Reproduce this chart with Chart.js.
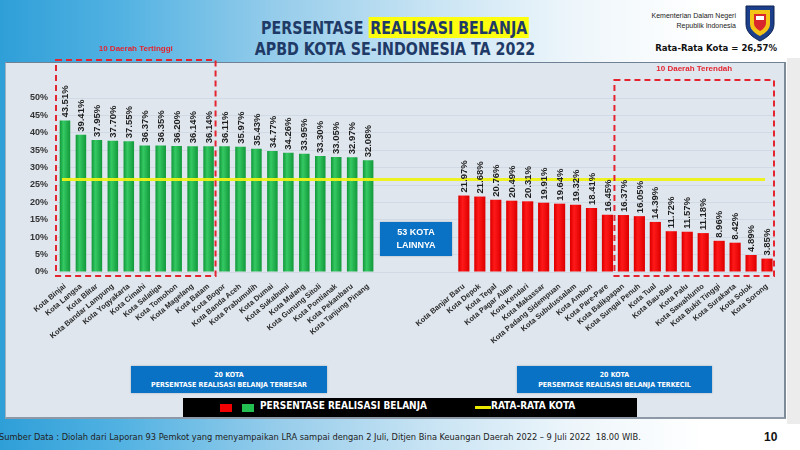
<!DOCTYPE html>
<html><head><meta charset="utf-8">
<script src="https://cdn.jsdelivr.net/npm/chart.js@4/dist/chart.umd.min.js"></script>
<style>
html,body{margin:0;padding:0;}
body{width:800px;height:450px;position:relative;overflow:hidden;
 background:linear-gradient(90deg,#2f9fd8 0%,#52b2e2 15%,#97cdeb 35%,#cbe5f4 55%,#eef6fb 72%,#ffffff 88%);
 font-family:'Liberation Sans',Arial,sans-serif;}
.abs{position:absolute;}
.narrow{font-family:'Liberation Sans Narrow','Arial Narrow','DejaVu Sans Condensed',sans-serif;}
#panel{left:5px;top:62px;width:778px;height:354px;background:#dfe6ee;border-top:1px solid #6f8295;border-left:1px solid #9fb0c0;border-right:2px solid #7d8a97;border-bottom:2px solid #8d99a6;}
#strip{left:787px;top:58px;width:13px;height:366px;background:#ececec;}
#title{left:195px;top:17px;width:400px;text-align:center;color:#1f3a66;font-weight:bold;font-size:18px;line-height:21px;transform:scaleX(0.88);transform-origin:200px 0;}
#title .hl{background:#ffff10;padding:0 2px;}
#kem{left:600px;top:11px;width:136px;text-align:right;font-size:7px;line-height:10px;color:#222;}
#avgtxt{left:620px;top:42px;width:157px;text-align:right;font-size:9.5px;font-weight:bold;color:#111;}
#chartbox{left:5px;top:40px;width:780px;height:320px;}
.bluebox{background:#0a72c4;color:#fff;font-weight:bold;text-align:center;box-shadow:0 0 2px rgba(0,0,0,.25);}
#lain{left:380px;top:222px;width:72px;height:34px;font-size:9px;line-height:13px;padding-top:4px;box-sizing:border-box;}
#b1{left:131px;top:366px;width:196px;height:27px;font-size:7px;line-height:10px;padding-top:4px;box-sizing:border-box;}
#b2{left:517px;top:366px;width:195px;height:27px;font-size:7px;line-height:10px;padding-top:4px;box-sizing:border-box;}
#legend{left:183px;top:398px;width:454px;height:19px;background:#000;color:#fff;font-weight:bold;font-size:10px;}
#footer{left:-1px;top:431px;font-size:9.2px;color:#222;white-space:nowrap;}
#page{left:764px;top:430px;font-size:12px;font-weight:bold;color:#111;}
</style></head>
<body>
<div id="panel" class="abs"></div>
<div id="strip" class="abs"></div>
<div id="title" class="abs narrow">PERSENTASE <span class="hl">REALISASI BELANJA</span><br>APBD KOTA SE-INDONESIA TA 2022</div>
<div id="kem" class="abs">Kementerian Dalam Negeri<br>Republik Indonesia</div>
<svg class="abs" style="left:744px;top:4px" width="32" height="38" viewBox="0 0 32 38">
 <path d="M2 2 H30 V20 C30 29 22 34 16 37 C10 34 2 29 2 20 Z" fill="#1b3f8a" stroke="#0d2350" stroke-width="1"/>
 <path d="M6 6 H26 V20 C26 26 20 30 16 32 C12 30 6 26 6 20 Z" fill="#f3c316"/>
 <path d="M10 10 H22 V19 C22 23 19 25 16 27 C13 25 10 23 10 19 Z" fill="#d8262c"/>
 <rect x="12" y="12" width="8" height="4" fill="#ffffff"/>
</svg>
<div id="avgtxt" class="abs narrow"></div>
<div id="chartbox" class="abs"><canvas id="c" width="780" height="320"></canvas></div>
<div id="lain" class="abs bluebox">53 KOTA<br>LAINNYA</div>
<div id="b1" class="abs bluebox narrow">20 KOTA<br>PERSENTASE REALISASI BELANJA TERBESAR</div>
<div id="b2" class="abs bluebox narrow">20 KOTA<br>PERSENTASE REALISASI BELANJA TERKECIL</div>
<div id="legend" class="abs narrow">
 <span class="abs" style="left:37px;top:6px;width:12px;height:8px;background:#f00000;"></span>
 <span class="abs" style="left:59px;top:6px;width:12px;height:8px;background:#22c050;"></span>
 <span class="abs" style="left:77px;top:2px;">PERSENTASE REALISASI BELANJA</span>
 <span class="abs" style="left:292px;top:8px;width:16px;height:3px;background:#e8e800;"></span>
 <span class="abs" style="left:308px;top:2px;">RATA-RATA KOTA</span>
</div>
<div id="footer" class="abs narrow">Sumber Data : Diolah dari Laporan 93 Pemkot yang menyampaikan LRA sampai dengan 2 Juli, Ditjen Bina Keuangan Daerah 2022 – 9 Juli 2022&nbsp; 18.00 WIB.</div>
<div id="page" class="abs">10</div>
<script>
const topCities = ['Kota Binjai','Kota Langsa','Kota Blitar','Kota Bandar Lampung','Kota Yogyakarta','Kota Cimahi','Kota Salatiga','Kota Tomohon','Kota Magelang','Kota Batam','Kota Bogor','Kota Banda Aceh','Kota Prabumulih','Kota Dumai','Kota Sukabumi','Kota Malang','Kota Gunung Sitoli','Kota Pontianak','Kota Pekanbaru','Kota Tanjung Pinang'];
const topValues = [43.51,39.41,37.95,37.70,37.55,36.37,36.35,36.20,36.14,36.14,36.11,35.97,35.43,34.77,34.26,33.95,33.30,33.05,32.97,32.08];
const bottomCities = ['Kota Banjar Baru','Kota Depok','Kota Tegal','Kota Pagar Alam','Kota Kendari','Kota Makassar','Kota Padang Sidempuan','Kota Subulussalam','Kota Ambon','Kota Pare-Pare','Kota Balikpapan','Kota Sungai Penuh','Kota Tual','Kota Bau-Bau','Kota Palu','Kota Sawahlunto','Kota Bukit Tinggi','Kota Surakarta','Kota Solok','Kota Sorong'];
const bottomValues = [21.97,21.68,20.76,20.49,20.31,19.91,19.64,19.32,18.41,16.45,16.37,16.05,14.39,11.72,11.57,11.18,8.96,8.42,4.89,3.85];
const gapSlots = 5;
const avgValue = 26.57;
const yTicks = [0,5,10,15,20,25,30,35,40,45,50];

document.getElementById('avgtxt').textContent = 'Rata-Rata Kota = ' + avgValue.toFixed(2).replace('.', ',') + '%';

const gap = Array(gapSlots).fill(null);
const labels = [...topCities, ...gap.map(() => ''), ...bottomCities];
const greenData = [...topValues, ...gap, ...bottomCities.map(() => null)];
const redData = [...topCities.map(() => null), ...gap, ...bottomValues];

function barFill(edge, mid) {
  return (ctx) => {
    const ch = ctx.chart;
    if (!ch.chartArea || !ch.scales.x) return mid;
    const cx = ch.scales.x.getPixelForValue(ctx.index);
    const g = ch.ctx.createLinearGradient(cx - 5, 0, cx + 5, 0);
    g.addColorStop(0, edge); g.addColorStop(0.35, mid); g.addColorStop(1, edge);
    return g;
  };
}

const decor = {
  id: 'decor',
  afterDatasetsDraw(chart) {
    const { ctx, chartArea: ca, scales: { x, y } } = chart;
    const yAvg = y.getPixelForValue(avgValue);
    ctx.save();
    ctx.strokeStyle = 'rgba(238,242,20,0.95)';
    ctx.lineWidth = 3;
    ctx.beginPath();
    ctx.moveTo(x.getPixelForValue(0) - 3, yAvg);
    ctx.lineTo(x.getPixelForValue(labels.length - 1) - 2, yAvg);
    ctx.stroke();
    ctx.restore();
    ctx.save();
    ctx.fillStyle = '#1e1e1e';
    ctx.font = 'bold 9.5px "Liberation Sans", Arial, sans-serif';
    ctx.textAlign = 'left';
    ctx.textBaseline = 'middle';
    chart.data.datasets.forEach((ds, di) => {
      const meta = chart.getDatasetMeta(di);
      ds.data.forEach((v, i) => {
        if (v == null) return;
        const el = meta.data[i];
        ctx.save();
        ctx.translate(el.x + 0.5, el.y - 3);
        ctx.rotate(-Math.PI / 2);
        ctx.fillText(v.toFixed(2) + '%', 0, 0);
        ctx.restore();
      });
    });
    ctx.restore();
    const step = x.getPixelForValue(1) - x.getPixelForValue(0);
    const boxes = [
      { a: 0, b: 9, top: ca.top - 38, text: '10 Daerah Tertinggi' },
      { a: topCities.length + gapSlots + 10, b: labels.length - 1, top: ca.top - 18, text: '10 Daerah Terendah' }
    ];
    ctx.save();
    ctx.strokeStyle = '#e42530';
    ctx.lineWidth = 2;
    ctx.setLineDash([6, 4]);
    boxes.forEach(bx => {
      const x1 = x.getPixelForValue(bx.a) - step * 0.5 - 1;
      const x2 = x.getPixelForValue(bx.b) + step * 0.5 - 1;
      ctx.strokeRect(x1, bx.top, x2 - x1, ca.bottom + 4 - bx.top);
      ctx.save();
      ctx.setLineDash([]);
      ctx.fillStyle = '#e42530';
      ctx.font = 'bold 8px "Liberation Sans", Arial, sans-serif';
      ctx.textAlign = 'center';
      ctx.textBaseline = 'middle';
      ctx.fillText(bx.text, (x1 + x2) / 2, bx.top - 11);
      ctx.restore();
    });
    ctx.restore();
  }
};

new Chart(document.getElementById('c'), {
  type: 'bar',
  data: {
    labels,
    datasets: [
      { label: 'Persentase Realisasi Belanja (tertinggi)', data: greenData, backgroundColor: barFill('#139a3c', '#35c963'), grouped: false, barPercentage: 0.66, categoryPercentage: 1 },
      { label: 'Persentase Realisasi Belanja (terendah)', data: redData, backgroundColor: barFill('#e00000', '#ff1a1a'), grouped: false, barPercentage: 0.7, categoryPercentage: 1 }
    ]
  },
  options: {
    responsive: false,
    animation: false,
    devicePixelRatio: 1,
    layout: { padding: { top: 58, right: 10, left: 0, bottom: 0 } },
    plugins: { legend: { display: false }, tooltip: { enabled: false } },
    scales: {
      x: {
        afterFit: (s) => { s.height = 88; },
        grid: { display: false },
        border: { display: false },
        ticks: {
          autoSkip: false, minRotation: 40, maxRotation: 40, padding: 2,
          color: '#2a2a2a',
          font: { family: '"Liberation Sans", Arial, sans-serif', size: 7.5, weight: 'bold' }
        }
      },
      y: {
        min: 0, max: 50,
        afterFit: (s) => { s.width = 52; },
        afterBuildTicks: (s) => { s.ticks = yTicks.map(v => ({ value: v })); },
        grid: { color: 'rgba(190,202,215,0.45)', drawTicks: false },
        border: { display: false },
        ticks: {
          padding: 9, color: '#333',
          font: { family: '"Liberation Sans", Arial, sans-serif', size: 9, weight: 'bold' },
          callback: (v) => v + '%'
        }
      }
    }
  },
  plugins: [decor]
});
</script>
</body></html>
